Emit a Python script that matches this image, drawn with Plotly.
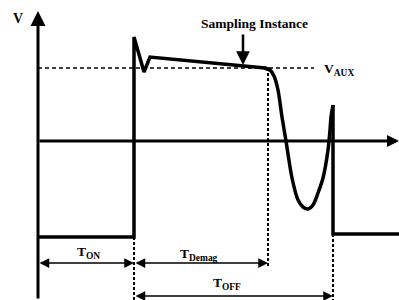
import plotly.graph_objects as go

# Coordinate system: time t (px from origin), voltage v (px above zero axis)
wave_lin_t = [0, 96, 96, 106, 112, 227, 232]
wave_lin_v = [-96, -96, 104, 69, 84, 73, 71]
ring_t = [226, 232, 236, 240, 244, 248, 254, 260, 265, 270, 275, 280, 285, 290, 292, 293, 295]
ring_v = [73, 71, 65, 51, 24, 0, -37, -59, -66, -68, -64, -52, -37, -9, 11, 24, 36]
next_t = [295, 295, 361]
next_v = [36, -93, -93]

v_aux = 73
t_on_end = 96
t_demag_end = 230
t_off_end = 295
low_level = -96
next_low = -93

FONT = "Liberation Serif"

fig = go.Figure()
fig.add_trace(go.Scatter(x=wave_lin_t, y=wave_lin_v, mode="lines",
                         line=dict(color="black", width=3.5), hoverinfo="skip"))
fig.add_trace(go.Scatter(x=ring_t, y=ring_v, mode="lines",
                         line=dict(color="black", width=3.5, shape="spline", smoothing=0.8),
                         hoverinfo="skip"))
fig.add_trace(go.Scatter(x=next_t, y=next_v, mode="lines",
                         line=dict(color="black", width=3.5), hoverinfo="skip"))

fig.add_trace(go.Scatter(x=[0, 276], y=[v_aux, v_aux], mode="lines",
                         line=dict(color="black", width=1.6, dash="4px,3px"), hoverinfo="skip"))
fig.add_trace(go.Scatter(x=[t_demag_end, t_demag_end], y=[v_aux, -127], mode="lines",
                         line=dict(color="black", width=2, dash="3px,2px"), hoverinfo="skip"))
fig.add_trace(go.Scatter(x=[t_on_end, t_on_end], y=[low_level, -159], mode="lines",
                         line=dict(color="black", width=2, dash="3px,2px"), hoverinfo="skip"))
fig.add_trace(go.Scatter(x=[t_off_end, t_off_end], y=[next_low, -159], mode="lines",
                         line=dict(color="black", width=2, dash="3px,2px"), hoverinfo="skip"))

ann = []
def arrow(x0, y0, x1, y1, w, size, both=False):
    d = dict(x=x1, y=y1, ax=x0, ay=y0, xref="x", yref="y", axref="x", ayref="y",
             text="", showarrow=True, arrowhead=2, arrowsize=size, arrowwidth=w,
             arrowcolor="black", standoff=0, startstandoff=0)
    if both:
        d.update(arrowside="end+start", startarrowhead=2, startarrowsize=size)
    ann.append(d)

arrow(0, -159, 0, 130, 3, 1.0)
arrow(0, 0, 361, 0, 3, 0.8)
arrow(205, 108, 205, 76, 2.5, 1.1)
arrow(0, -122, t_on_end, -122, 1.5, 1.3, both=True)
arrow(t_on_end, -122, t_demag_end, -122, 1.5, 1.3, both=True)
arrow(t_on_end, -155, t_off_end, -155, 1.5, 1.3, both=True)

def label(x, y, txt, size=11, anchor="center"):
    ann.append(dict(x=x, y=y, xref="x", yref="y", text=txt, showarrow=False,
                    xanchor=anchor, yanchor="middle",
                    font=dict(family=FONT, size=size, color="black")))

label(-20, 123, "<b>V</b>", 14)
label(216, 118, "<b>Sampling Instance</b>", 13.5)
label(284, 72, "<b>V<sub>AUX</sub></b>", 13.5, "left")
label(50, -111, "<b>T<sub>ON</sub></b>", 13.5)
label(161, -113, "<b>T<sub>Demag</sub></b>", 13.5)
label(189, -142, "<b>T<sub>OFF</sub></b>", 13.5)

fig.update_layout(
    width=399, height=300, autosize=False,
    margin=dict(l=0, r=0, t=0, b=0),
    paper_bgcolor="white", plot_bgcolor="white",
    showlegend=False,
    xaxis=dict(range=[-38, 361], visible=False, fixedrange=True),
    yaxis=dict(range=[-159, 141], visible=False, fixedrange=True),
    annotations=ann,
)

fig.write_html("out.html", config={"displayModeBar": False},
               post_script="document.body.style.margin='0';document.body.style.padding='0';")
